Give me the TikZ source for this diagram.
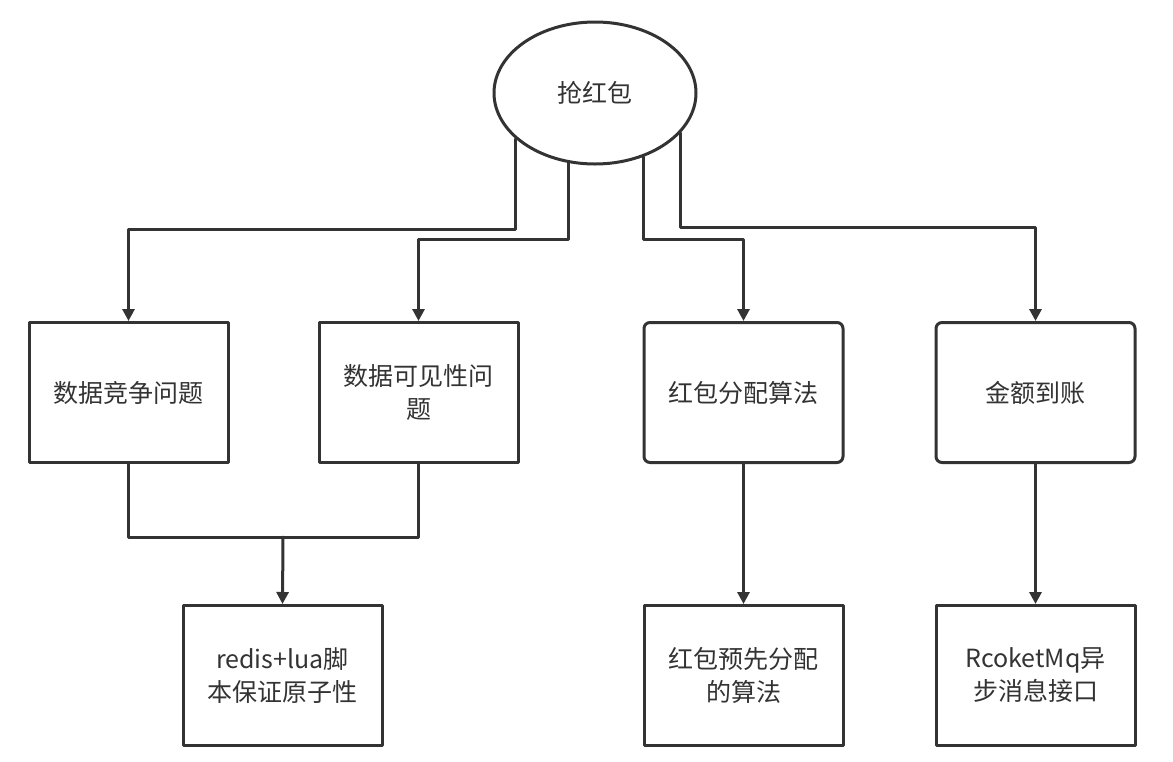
\documentclass[tikz,border=0pt]{standalone}
\usepackage{fontspec}
\usepackage{tikz}
\usetikzlibrary{arrows.meta,shapes.geometric}
\newfontfamily\cjk{Noto Sans CJK SC}
\definecolor{ink}{HTML}{333333}

\begin{document}
\begin{tikzpicture}[line cap=round,line join=round,x=0.5pt,y=-0.5pt,
  font=\cjk\fontsize{12.5}{16.5}\selectfont,
  box/.style={draw=ink,line width=1.5pt,fill=white,text=ink,align=center,
    minimum width=99.5pt,minimum height=70pt,inner sep=0pt},
  rbox/.style={box,rounded corners=3pt},
  conn/.style={draw=ink,line width=1.5pt},
  arr/.style={conn,-{Triangle[length=6pt,width=6pt]}}]
\useasboundingbox (0,0) rectangle (1173,761);
\node[ellipse,draw=ink,line width=1.5pt,text=ink,minimum width=101pt,minimum height=71pt,inner sep=0pt] (top) at (595,93) {抢红包};
\node[box] (race) at (128.5,392.5) {数据竞争问题};
\node[box] (vis) at (418.5,392.5) {数据可见性问\\题};
\node[rbox] (alloc) at (743.5,392.5) {红包分配算法};
\node[rbox] (pay) at (1035.5,392.5) {金额到账};
\node[box] (lua) at (282.5,675.5) {redis+lua脚\\本保证原子性};
\node[box] (pre) at (743.5,675.5) {红包预先分配\\的算法};
\node[box] (mq) at (1035.5,675.5) {RcoketMq异\\步消息接口};
\coordinate (lvla) at (0,229);
\coordinate (lvlb) at (0,239);
\coordinate (lvlc) at (0,227);
\coordinate (mrg) at (283,537);
\draw[arr] (top.210) -- (top.210 |- lvla) -| (race.north);
\draw[arr] (top.249) -- (top.249 |- lvlb) -| (vis.north);
\draw[arr] (top.307) -- (top.307 |- lvlb) -| (alloc.north);
\draw[arr] (top.335) -- (top.335 |- lvlc) -| (pay.north);
\draw[conn] (race.south) |- (mrg) -| (vis.south);
\draw[arr] (mrg) -- (lua.north);
\draw[arr] (alloc) -- (pre);
\draw[arr] (pay) -- (mq);
\end{tikzpicture}
\end{document}
